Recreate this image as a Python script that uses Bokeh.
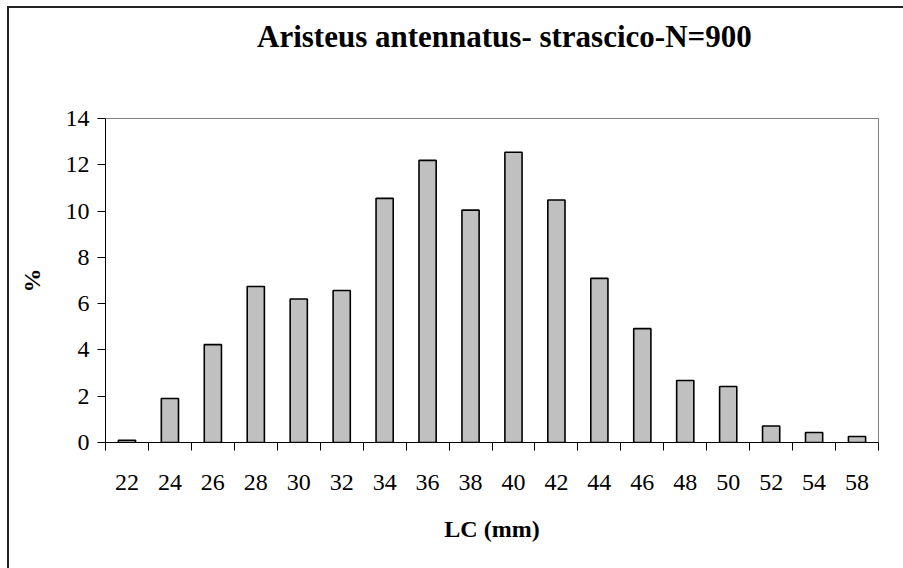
from bokeh.plotting import figure
from bokeh.models import Range1d, FixedTicker, ColumnDataSource, Div
from bokeh.layouts import column
from bokeh.embed import file_html
from bokeh.resources import INLINE

# ---- data ----
categories = ["22", "24", "26", "28", "30", "32", "34", "36", "38",
              "40", "42", "44", "46", "48", "50", "52", "54", "58"]
percent = [0.1, 1.9, 4.23, 6.74, 6.2, 6.57, 10.55, 12.19, 10.04,
           12.54, 10.48, 7.09, 4.92, 2.68, 2.42, 0.71, 0.43, 0.26]
y_ticks = [0, 2, 4, 6, 8, 10, 12, 14]
title_text = "Aristeus antennatus- strascico-N=900"
x_title = "LC (mm)"
y_title = "%"

FONT = "Liberation Serif"
idx = list(range(len(categories)))
src = ColumnDataSource(dict(x=idx, top=percent, cat=categories))

title_div = Div(
    text=('<div style="padding-top:6px; padding-left:243px; white-space:nowrap; '
          "font-family:'Liberation Serif'; font-size:31px; font-weight:bold; "
          'color:black; line-height:normal;">' + title_text + '</div>'),
    width=893, height=50)

p = figure(width=893, height=504, output_backend="svg", toolbar_location=None,
           x_range=Range1d(-0.5, len(categories) - 0.5), y_range=Range1d(0, 14),
           min_border_left=96, min_border_right=24, min_border_top=50,
           min_border_bottom=130)

p.vbar(x="x", top="top", width=0.4, source=src, fill_color="#C0C0C0",
       line_color="black", line_width=1.6)

p.xgrid.visible = False
p.ygrid.visible = False
p.outline_line_color = "#808080"
p.outline_line_width = 1
p.background_fill_color = "white"
p.border_fill_color = "white"

# x axis: labels at category centers, ticks at category boundaries
xa = p.xaxis[0]
xa.ticker = FixedTicker(ticks=idx, minor_ticks=[i - 0.5 for i in range(len(categories) + 1)])
xa.major_label_overrides = {i: c for i, c in zip(idx, categories)}
xa.major_tick_out = 0
xa.major_tick_in = 0
xa.minor_tick_out = 8
xa.minor_tick_in = 0
xa.minor_tick_line_color = "black"
xa.axis_line_color = "black"
xa.major_label_text_font = FONT
xa.major_label_text_font_size = "24px"
xa.major_label_text_color = "black"
xa.major_label_standoff = 24
xa.axis_label = x_title
xa.axis_label_text_font = FONT
xa.axis_label_text_font_size = "24px"
xa.axis_label_text_font_style = "bold"
xa.axis_label_text_color = "black"
xa.axis_label_standoff = 23

ya = p.yaxis[0]
ya.ticker = FixedTicker(ticks=y_ticks, minor_ticks=[])
ya.major_tick_out = 8
ya.major_tick_in = 0
ya.major_tick_line_color = "black"
ya.axis_line_color = "black"
ya.major_label_text_font = FONT
ya.major_label_text_font_size = "24px"
ya.major_label_text_color = "black"
ya.major_label_standoff = 8
ya.axis_label = y_title
ya.axis_label_text_font = FONT
ya.axis_label_text_font_size = "24px"
ya.axis_label_text_font_style = "bold"
ya.axis_label_text_color = "black"
ya.axis_label_standoff = 18

layout = column(title_div, p, spacing=0)
layout.styles = {"border-left": "2px solid #222", "border-top": "2px solid #222",
                 "margin-left": "7px", "margin-top": "6px", "background": "white"}

open("out.html", "w").write(file_html(layout, INLINE))
